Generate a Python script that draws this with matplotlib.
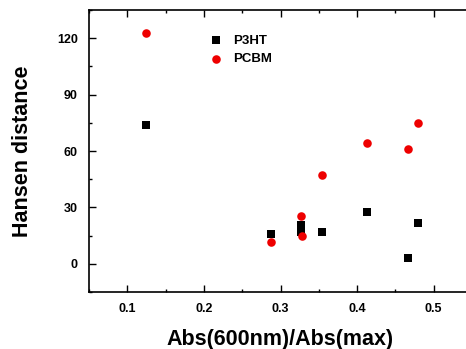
import matplotlib
matplotlib.use("Agg")
import matplotlib.pyplot as plt
from matplotlib.ticker import MultipleLocator

# data
p3ht_x = [0.125, 0.288, 0.327, 0.327, 0.354, 0.413, 0.466, 0.479]
p3ht_y = [74.0, 16.0, 20.5, 17.0, 16.8, 27.3, 3.0, 21.8]
pcbm_x = [0.125, 0.288, 0.327, 0.328, 0.354, 0.413, 0.466, 0.480]
pcbm_y = [122.7, 11.5, 25.5, 15.0, 47.4, 64.0, 61.2, 75.0]

x_ticks = [0.1, 0.2, 0.3, 0.4, 0.5]
y_ticks = [0, 30, 60, 90, 120]

plt.rcParams['font.family'] = ['Liberation Sans', 'DejaVu Sans']
plt.rcParams['font.weight'] = 'bold'

fig = plt.figure(figsize=(4.66, 3.49), dpi=100)
# right spine lies past the image edge, as in the cropped original
ax = fig.add_axes([89 / 466, 1 - 292 / 349, (472 - 89) / 466, (292 - 10) / 349])

ax.scatter(p3ht_x, p3ht_y, marker='s', s=30, color='black', linewidths=0, label='P3HT', zorder=3)
ax.scatter(pcbm_x, pcbm_y, marker='o', s=38, color='#ee0000', linewidths=0, label='PCBM', zorder=3)

ax.set_xlim(0.05, 0.55)
ax.set_ylim(-15, 135)
ax.set_xticks(x_ticks)
ax.set_yticks(y_ticks)
ax.set_xticklabels([f"{v:.1f}" for v in x_ticks])
ax.xaxis.set_minor_locator(MultipleLocator(0.05))
ax.yaxis.set_minor_locator(MultipleLocator(15))
ax.tick_params(which='both', direction='in', top=True, right=False, width=1.0)
ax.tick_params(which='major', length=5, labelsize=9, pad=8)
ax.tick_params(which='minor', length=2.5)
for sp in ax.spines.values():
    sp.set_linewidth(1.2)

ax.set_xlabel("Abs(600nm)/Abs(max)", fontsize=15.5, fontweight='bold', labelpad=10)
ax.set_ylabel("Hansen distance", fontsize=15.5, fontweight='bold', labelpad=17)

ax.legend(loc='upper left', bbox_to_anchor=(0.265, 0.955), frameon=False,
          prop={'size': 9.5, 'weight': 'bold'}, handletextpad=0.3,
          labelspacing=0.45, scatterpoints=1)

fig.savefig("out.png", dpi=100)
